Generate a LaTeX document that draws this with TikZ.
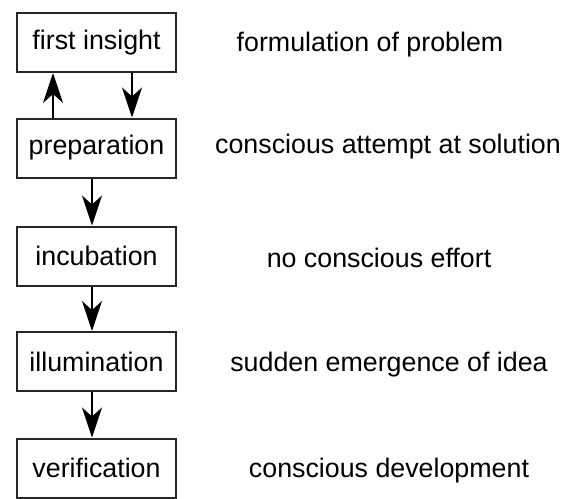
\documentclass[tikz,border=0pt]{standalone}
\usepackage{fontspec}
\setmainfont{Liberation Sans}
\usetikzlibrary{positioning, arrows.meta}
\tikzset{
  phase/.style={
    draw=black!85, rectangle, line width=1pt,
    minimum width=79.5pt, minimum height=29.5pt,
    font=\fontsize{13.4}{16}\selectfont, inner sep=0pt, align=center
  },
  note/.style={font=\fontsize{13.4}{16}\selectfont, inner sep=0pt},
  flowarr/.style={-{Stealth[length=15pt, width=10pt, inset=4.5pt]}, line width=0.8pt, black},
}
\begin{document}
\begin{tikzpicture}[x=0.5pt, y=-0.5pt]
        \useasboundingbox (0,0) rectangle (562,498);
        % stages
        \node[phase] (insight) at (96.5, 42.5) {first insight};
        \node[phase] (prep)    at (96.5, 148)  {preparation};
        \node[phase] (incub)   at (96.5, 256)  {incubation};
        \node[phase] (illum)   at (96.5, 361.5) {illumination};
        \node[phase] (verif)   at (96.5, 468)  {verification};
        % descriptions
        \node[note] (dinsight) at (370, 45)  {formulation of problem};
        \node[note] (dprep)    at (388, 147) {conscious attempt at solution};
        \node[note] (dincub)   at (379, 258) {no conscious effort};
        \node[note] (dillum)   at (389, 365) {sudden emergence of idea};
        \node[note] (dverif)   at (389, 471) {conscious development};
        % connectors
        \draw[flowarr] ([xshift=-21.75pt]prep.north) -- ([xshift=-21.75pt]insight.south);
        \draw[flowarr] ([xshift=17.75pt]insight.south) -- ([xshift=17.75pt]prep.north);
        \draw[flowarr] ([xshift=-2.25pt]prep.south) -- ([xshift=-2.25pt]incub.north);
        \draw[flowarr] ([xshift=-2.25pt]incub.south) -- ([xshift=-2.25pt]illum.north);
        \draw[flowarr] ([xshift=-2.25pt]illum.south) -- ([xshift=-2.25pt]verif.north);
      \end{tikzpicture}
\end{document}
